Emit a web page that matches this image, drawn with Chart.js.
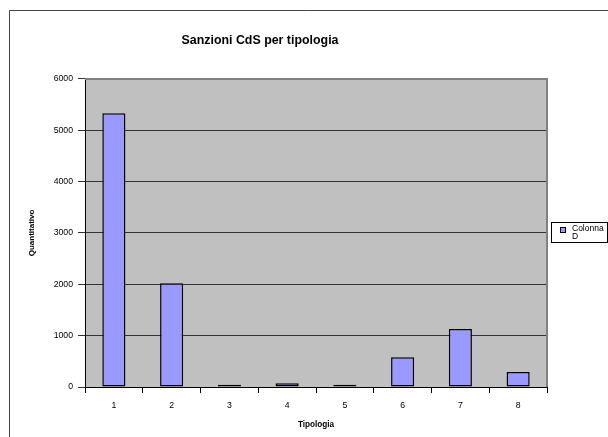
<!DOCTYPE html>
<html>
<head>
<meta charset="utf-8">
<script src="https://cdn.jsdelivr.net/npm/chart.js@4/dist/chart.umd.min.js"></script>
<style>
  html, body { margin: 0; padding: 0; background: #fff; }
  #wrap { position: relative; width: 608px; height: 437px; overflow: hidden; }
  #c { position: absolute; left: 0; top: 0; }
  #legend { position: absolute; left: 551px; top: 222px; width: 55px; height: 19px; border: 1px solid #000; background: #fff;
            font-family: "Liberation Sans", Arial, sans-serif; font-size: 8.5px; line-height: 8px; color: #000;
            -webkit-font-smoothing: antialiased; will-change: transform; }
  #legend .sw { position: absolute; left: 8px; top: 4px; width: 4px; height: 4px; background: #9999FF; border: 1px solid #000; }
  #legend .tx { position: absolute; left: 20px; top: 1px; }
</style>
</head>
<body>
<div id="wrap">
  <canvas id="c" width="608" height="437"></canvas>
  <div id="legend"><span class="sw"></span><span class="tx">Colonna<br>D</span></div>
</div>
<script>
const categories = ['1', '2', '3', '4', '5', '6', '7', '8'];
const seriesName = 'Colonna D';
const values = [5330, 2020, 45, 75, 45, 580, 1130, 290];
const yTicks = [0, 1000, 2000, 3000, 4000, 5000, 6000];

const FONT = '"Liberation Sans", Arial, sans-serif';

const framePlugin = {
  id: 'frame',
  beforeDraw(chart) {
    const ctx = chart.ctx, a = chart.chartArea;
    ctx.save();
    ctx.fillStyle = '#fff';
    ctx.fillRect(0, 0, chart.width, chart.height);
    ctx.strokeStyle = '#444';
    ctx.lineWidth = 1;
    ctx.beginPath();
    ctx.moveTo(9.5, chart.height);
    ctx.lineTo(9.5, 10.5);
    ctx.lineTo(chart.width, 10.5);
    ctx.stroke();
    ctx.fillStyle = '#C0C0C0';
    ctx.fillRect(a.left, a.top, a.right - a.left, a.bottom - a.top);
    ctx.restore();
  },
  afterDraw(chart) {
    const ctx = chart.ctx, a = chart.chartArea;
    ctx.save();
    ctx.strokeStyle = '#808080';
    ctx.lineWidth = 2;
    ctx.beginPath();
    ctx.moveTo(a.left, a.top);
    ctx.lineTo(a.right, a.top);
    ctx.lineTo(a.right, a.bottom);
    ctx.stroke();
    ctx.restore();
  }
};

new Chart(document.getElementById('c'), {
  type: 'bar',
  data: {
    labels: categories,
    datasets: [{
      label: seriesName,
      data: values,
      backgroundColor: '#9999FF',
      borderColor: '#000',
      borderWidth: 1.5,
      borderSkipped: false,
      barPercentage: 0.4,
      categoryPercentage: 1.0
    }]
  },
  options: {
    responsive: false,
    animation: false,
    devicePixelRatio: 1,
    layout: { padding: { left: -27, right: 61, top: 10, bottom: 0 } },
    plugins: {
      legend: { display: false },
      tooltip: { enabled: false },
      title: {
        display: true,
        text: 'Sanzioni CdS per tipologia',
        color: '#000',
        font: { family: FONT, size: 12.4, weight: 'bold' },
        padding: { top: 23.5, bottom: 30.5 }
      }
    },
    scales: {
      x: {
        grid: { offset: true, drawOnChartArea: false, drawTicks: true, tickLength: 6, color: '#000' },
        border: { display: true, color: '#000', width: 1 },
        ticks: { color: '#000', font: { family: FONT, size: 8.7 }, padding: 7, maxRotation: 0 },
        title: { display: true, text: 'Tipologia', color: '#000', font: { family: FONT, size: 8.2, weight: 'bold' }, padding: { top: 0, bottom: 7 } },
        afterFit(s) { s.height = 50; }
      },
      y: {
        min: 0,
        max: 6000,
        afterBuildTicks(s) { s.ticks = yTicks.map(v => ({ value: v })); },
        grid: { color: '#333', tickLength: 7, drawTicks: true },
        border: { display: true, color: '#000', width: 1 },
        ticks: { color: '#000', font: { family: FONT, size: 8.7 }, padding: 5, callback: v => String(v) },
        title: { display: true, text: 'Quantitativo', color: '#000', font: { family: FONT, size: 8, weight: 'bold' }, padding: { top: 54, bottom: 0 } },
        afterFit(s) { s.width = 112; }
      }
    }
  },
  plugins: [framePlugin]
});
</script>
</body>
</html>
